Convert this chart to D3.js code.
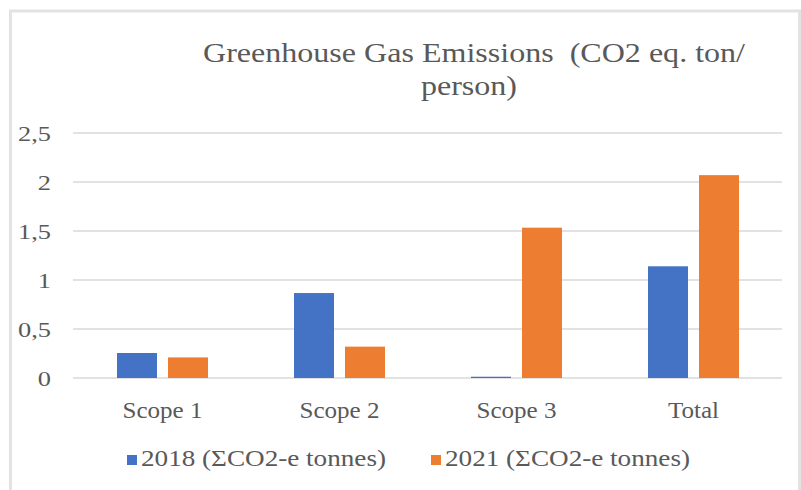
<!DOCTYPE html>
<html>
<head>
<meta charset="utf-8">
<script src="https://cdn.jsdelivr.net/npm/d3@7"></script>
<style>
  body { margin: 0; background: #fff; }
  text { font-family: "Liberation Serif", "Times New Roman", "DejaVu Serif", serif; fill: #595959; white-space: pre; }
</style>
</head>
<body>
<div id="chart"></div>
<script>
// data
const categories = ["Scope 1", "Scope 2", "Scope 3", "Total"];
const seriesNames = ["2018 (ΣCO2-e tonnes)", "2021 (ΣCO2-e tonnes)"];
const values2018 = [0.255, 0.867, 0.013, 1.14];
const values2021 = [0.21, 0.32, 1.534, 2.07];
const yTicks = [0, 0.5, 1, 1.5, 2, 2.5];
const colors = ["#4472c4", "#ed7d31"];

const width = 801, height = 490;

const svg = d3.select("#chart")
  .append("svg")
  .attr("width", width)
  .attr("height", height);

// the source picture is a bit stretched sideways, so text gets widened
function stretch(sel, k) {
  sel.attr("lengthAdjust", "spacingAndGlyphs")
    .attr("textLength", function () { return this.getComputedTextLength() * k; });
}

// light frame around the chart area
svg.append("path")
  .attr("d", "M10.5,490 L10.5,11 L799.5,11 L799.5,490")
  .attr("fill", "none")
  .attr("stroke", "#e3e3e3")
  .attr("stroke-width", 3);

const x0 = d3.scaleBand().domain(categories).range([74, 782]);
const x1 = d3.scaleBand().domain(seriesNames).range([0, 91]).paddingInner(0.2157);
const y = d3.scaleLinear().domain([0, 2.5]).range([378, 133]);

const fmt = (d) => String(d).replace(".", ",");

// grid
svg.append("g")
  .selectAll("line")
  .data(yTicks)
  .join("line")
  .attr("x1", 73)
  .attr("x2", 782)
  .attr("y1", (d) => y(d))
  .attr("y2", (d) => y(d))
  .attr("stroke", "#d9d9d9")
  .attr("stroke-width", 1.5);

// y labels
const yLabels = svg.append("g")
  .selectAll("text")
  .data(yTicks)
  .join("text")
  .attr("x", 51)
  .attr("y", (d) => y(d) + 7.5)
  .attr("text-anchor", "end")
  .style("font-size", "21px")
  .text(fmt);
const tickK = 33 / yLabels.filter((d) => d === 2.5).node().getComputedTextLength();
stretch(yLabels, tickK);

// bars
const rows = categories.map((c, i) => ({ cat: c, vals: [values2018[i], values2021[i]] }));

const groups = svg.append("g")
  .selectAll("g")
  .data(rows)
  .join("g")
  .attr("transform", (d) => "translate(" + (x0(d.cat) + x0.bandwidth() / 2 - 45.5) + ",0)");

groups.selectAll("rect")
  .data((d) => d.vals.map((v, j) => ({ s: seriesNames[j], v: v, j: j })))
  .join("rect")
  .attr("x", (d) => x1(d.s))
  .attr("width", x1.bandwidth())
  .attr("y", (d) => y(d.v))
  .attr("height", (d) => y(0) - y(d.v))
  .attr("fill", (d) => colors[d.j]);

// category labels
const catLabels = svg.append("g")
  .selectAll("text")
  .data(categories)
  .join("text")
  .attr("x", (d) => x0(d) + x0.bandwidth() / 2)
  .attr("y", 418)
  .attr("text-anchor", "middle")
  .style("font-size", "24px")
  .text((d) => d);
const catK = 80 / catLabels.filter((d) => d === "Scope 1").node().getComputedTextLength();
stretch(catLabels, catK);

// title
const t1 = svg.append("text")
  .attr("x", 474).attr("y", 62)
  .attr("text-anchor", "middle")
  .style("font-size", "28px")
  .text("Greenhouse Gas Emissions  (CO2 eq. ton/");
const titleK = 542 / t1.node().getComputedTextLength();
stretch(t1, titleK);
const t2 = svg.append("text")
  .attr("x", 469).attr("y", 95)
  .attr("text-anchor", "middle")
  .style("font-size", "28px")
  .text("person)");
stretch(t2, titleK);

// legend
const legendX = [127, 431];
const legend = svg.append("g")
  .selectAll("g")
  .data(seriesNames)
  .join("g")
  .attr("transform", (d, i) => "translate(" + legendX[i] + ",0)");

legend.append("rect")
  .attr("x", 0)
  .attr("y", 455)
  .attr("width", 10)
  .attr("height", 10)
  .attr("fill", (d, i) => colors[i]);

const legText = legend.append("text")
  .attr("x", 14)
  .attr("y", 466)
  .style("font-size", "24px")
  .text((d) => d);
const legK = 245 / legText.node().getComputedTextLength();
stretch(legText, legK);
</script>
</body>
</html>
